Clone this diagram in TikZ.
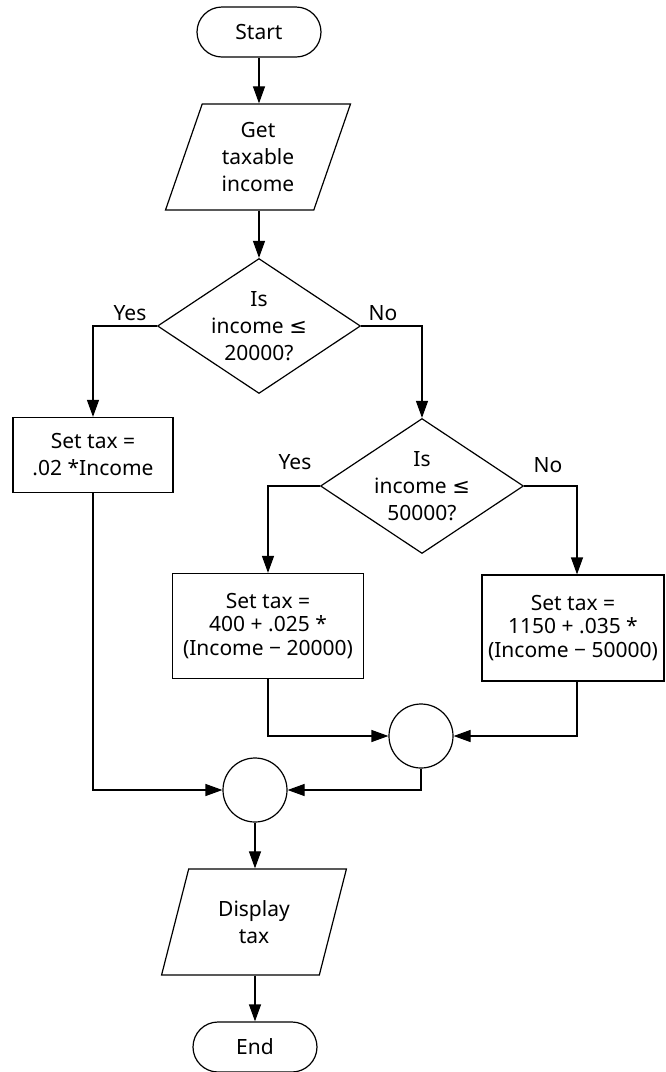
\documentclass[tikz,border=0pt]{standalone}
\usepackage{fontspec}
\setmainfont{Noto Sans}
\newfontfamily\symfont{DejaVu Sans}
\newcommand{\myleq}{{\symfont ≤}}
\usetikzlibrary{shapes.geometric,shapes.misc,arrows.meta,calc}
\begin{document}
\begin{tikzpicture}[x=1pt,y=-1pt, line width=1.2pt,
  every node/.style={font=\fontsize{21}{27}\selectfont, align=center, inner sep=0pt},
  term/.style={draw, rounded rectangle, minimum width=124pt, minimum height=50pt},
  io/.style={draw, trapezium, trapezium left angle=71, trapezium right angle=109,
             trapezium stretches=true, minimum width=185pt, minimum height=106pt},
  dec/.style={draw, diamond, aspect=1.5, minimum width=203pt, minimum height=135pt},
  proc/.style={draw, rectangle},
  tight/.style={font=\fontsize{21}{23.5}\selectfont},
  junc/.style={draw, circle, minimum size=64pt},
  lab/.style={draw=none},
  arr/.style={-{Triangle[length=17pt,width=12pt]}}]
\useasboundingbox (0,0) rectangle (665,1072);

\node[term] (start) at (259,32) {Start};
\node[io] (get) at (258,157) {Get\\taxable\\income};
\node[dec] (d1) at (259,326) {Is\\income \myleq\\20000?};
\node[proc, minimum width=160pt, minimum height=75pt] (b1) at (93,455) {Set tax =\\.02 *Income};
\node[dec] (d2) at (422,486) {Is\\income \myleq\\50000?};
\node[proc, tight, minimum width=191pt, minimum height=105pt] (b2) at (268,626) {Set tax =\\400 + .025 *\\(Income − 20000)};
\node[proc, tight, minimum width=182pt, minimum height=106pt] (b3) at (573,628) {Set tax =\\1150 + .035 *\\(Income − 50000)};
\node[junc] (j1) at (421,736) {};
\node[junc] (j2) at (255,790) {};
\node[io] (disp) at (254,922) {Display\\tax};
\node[term] (end) at (255,1047) {End};

\node[lab] (y1) at (130,313) {Yes};
\node[lab] (n1) at (383,313) {No};
\node[lab] (y2) at (295,462) {Yes};
\node[lab] (n2) at (548,465) {No};

\draw[arr] (start.south) -- (start.south |- get.north);
\draw[arr] (get.south -| start.south) -- (d1.north);
\draw[arr] (d1.west) -| (b1.north);
\draw[arr] (d1.east) -| (d2.north);
\draw[arr] (d2.west) -| (b2.north);
\draw[arr] (d2.east) -| ([xshift=4pt]b3.north);
\draw[arr] (b2.south) |- (j1.west);
\draw[arr] ([xshift=4pt]b3.south) |- (j1.east);
\draw[arr] (j1.south) |- (j2.east);
\draw[arr] (b1.south) |- (j2.west);
\draw[arr] (j2.south) -- (j2.south |- disp.north);
\draw[arr] (disp.south -| end.north) -- (end.north);
\end{tikzpicture}
\end{document}
